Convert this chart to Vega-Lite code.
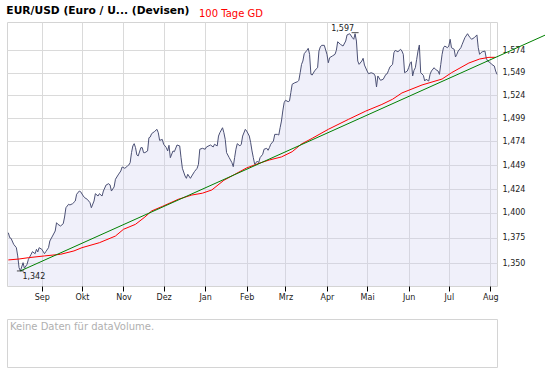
{
  "$schema": "https://vega.github.io/schema/vega-lite/v6.json",
  "padding": {"left": 5, "top": 4, "right": 0, "bottom": 0},
  "background": "white",
  "config": {
    "font": "DejaVu Sans",
    "view": {"stroke": "#d4d4d4", "strokeWidth": 1}
  },
  "spacing": 16,
  "datasets": {
    "price": [
      {"date":"2007-08-07","value":1.3801},{"date":"2007-08-08","value":1.3752},{"date":"2007-08-09","value":1.3746},{"date":"2007-08-11","value":1.3686},
      {"date":"2007-08-13","value":1.3653},{"date":"2007-08-14","value":1.3572},{"date":"2007-08-15","value":1.3458},{"date":"2007-08-16","value":1.3426},
      {"date":"2007-08-18","value":1.3506},{"date":"2007-08-19","value":1.3452},{"date":"2007-08-21","value":1.3491},{"date":"2007-08-22","value":1.3539},
      {"date":"2007-08-24","value":1.3588},{"date":"2007-08-25","value":1.3614},{"date":"2007-08-27","value":1.3594},{"date":"2007-08-28","value":1.3637},
      {"date":"2007-08-29","value":1.3611},{"date":"2007-08-30","value":1.3653},{"date":"2007-09-01","value":1.3637},{"date":"2007-09-03","value":1.3594},
      {"date":"2007-09-04","value":1.3614},{"date":"2007-09-06","value":1.3653},{"date":"2007-09-07","value":1.3719},{"date":"2007-09-09","value":1.3768},
      {"date":"2007-09-11","value":1.3818},{"date":"2007-09-12","value":1.3901},{"date":"2007-09-13","value":1.3885},{"date":"2007-09-15","value":1.3868},
      {"date":"2007-09-17","value":1.3891},{"date":"2007-09-18","value":1.3958},{"date":"2007-09-19","value":1.4052},{"date":"2007-09-21","value":1.4087},
      {"date":"2007-09-22","value":1.4080},{"date":"2007-09-24","value":1.4093},{"date":"2007-09-26","value":1.4120},{"date":"2007-09-27","value":1.4189},
      {"date":"2007-09-29","value":1.4222},{"date":"2007-09-30","value":1.4215},{"date":"2007-10-02","value":1.4171},{"date":"2007-10-03","value":1.4154},
      {"date":"2007-10-05","value":1.4137},{"date":"2007-10-07","value":1.4103},{"date":"2007-10-08","value":1.4052},{"date":"2007-10-10","value":1.4120},
      {"date":"2007-10-11","value":1.4195},{"date":"2007-10-13","value":1.4171},{"date":"2007-10-14","value":1.4195},{"date":"2007-10-16","value":1.4171},
      {"date":"2007-10-17","value":1.4222},{"date":"2007-10-19","value":1.4284},{"date":"2007-10-21","value":1.4298},{"date":"2007-10-22","value":1.4284},
      {"date":"2007-10-23","value":1.4222},{"date":"2007-10-25","value":1.4264},{"date":"2007-10-26","value":1.4343},{"date":"2007-10-28","value":1.4388},
      {"date":"2007-10-30","value":1.4429},{"date":"2007-10-31","value":1.4471},{"date":"2007-11-02","value":1.4457},{"date":"2007-11-04","value":1.4481},
      {"date":"2007-11-05","value":1.4492},{"date":"2007-11-06","value":1.4516},{"date":"2007-11-07","value":1.4621},{"date":"2007-11-08","value":1.4692},
      {"date":"2007-11-09","value":1.4716},{"date":"2007-11-10","value":1.4674},{"date":"2007-11-11","value":1.4597},{"date":"2007-11-12","value":1.4586},
      {"date":"2007-11-14","value":1.4674},{"date":"2007-11-15","value":1.4674},{"date":"2007-11-16","value":1.4621},{"date":"2007-11-17","value":1.4621},
      {"date":"2007-11-19","value":1.4639},{"date":"2007-11-20","value":1.4779},{"date":"2007-11-21","value":1.4787},{"date":"2007-11-22","value":1.4822},
      {"date":"2007-11-24","value":1.4843},{"date":"2007-11-26","value":1.4869},{"date":"2007-11-27","value":1.4833},{"date":"2007-11-28","value":1.4751},
      {"date":"2007-11-30","value":1.4761},{"date":"2007-12-01","value":1.4710},{"date":"2007-12-03","value":1.4674},{"date":"2007-12-04","value":1.4639},
      {"date":"2007-12-05","value":1.4699},{"date":"2007-12-06","value":1.4568},{"date":"2007-12-08","value":1.4639},{"date":"2007-12-09","value":1.4631},
      {"date":"2007-12-11","value":1.4702},{"date":"2007-12-13","value":1.4692},{"date":"2007-12-14","value":1.4568},{"date":"2007-12-15","value":1.4457},
      {"date":"2007-12-17","value":1.4377},{"date":"2007-12-18","value":1.4353},{"date":"2007-12-19","value":1.4395},{"date":"2007-12-21","value":1.4353},
      {"date":"2007-12-22","value":1.4377},{"date":"2007-12-24","value":1.4422},{"date":"2007-12-26","value":1.4457},{"date":"2007-12-27","value":1.4499},
      {"date":"2007-12-28","value":1.4657},{"date":"2007-12-30","value":1.4667},{"date":"2008-01-01","value":1.4657},{"date":"2008-01-02","value":1.4681},
      {"date":"2008-01-05","value":1.4702},{"date":"2008-01-07","value":1.4681},{"date":"2008-01-08","value":1.4710},{"date":"2008-01-10","value":1.4692},
      {"date":"2008-01-11","value":1.4797},{"date":"2008-01-12","value":1.4833},{"date":"2008-01-14","value":1.4886},{"date":"2008-01-15","value":1.4833},
      {"date":"2008-01-16","value":1.4762},{"date":"2008-01-17","value":1.4621},{"date":"2008-01-19","value":1.4568},{"date":"2008-01-21","value":1.4516},
      {"date":"2008-01-22","value":1.4474},{"date":"2008-01-23","value":1.4568},{"date":"2008-01-24","value":1.4657},{"date":"2008-01-25","value":1.4716},
      {"date":"2008-01-27","value":1.4692},{"date":"2008-01-28","value":1.4710},{"date":"2008-01-29","value":1.4797},{"date":"2008-01-31","value":1.4869},
      {"date":"2008-02-01","value":1.4851},{"date":"2008-02-03","value":1.4797},{"date":"2008-02-04","value":1.4727},{"date":"2008-02-05","value":1.4639},
      {"date":"2008-02-06","value":1.4568},{"date":"2008-02-07","value":1.4499},{"date":"2008-02-09","value":1.4533},{"date":"2008-02-10","value":1.4516},
      {"date":"2008-02-11","value":1.4568},{"date":"2008-02-13","value":1.4604},{"date":"2008-02-14","value":1.4657},{"date":"2008-02-16","value":1.4667},
      {"date":"2008-02-17","value":1.4646},{"date":"2008-02-18","value":1.4674},{"date":"2008-02-19","value":1.4710},{"date":"2008-02-21","value":1.4744},
      {"date":"2008-02-22","value":1.4815},{"date":"2008-02-24","value":1.4815},{"date":"2008-02-25","value":1.4808},{"date":"2008-02-26","value":1.4886},
      {"date":"2008-02-27","value":1.4958},{"date":"2008-02-28","value":1.5067},{"date":"2008-02-29","value":1.5157},{"date":"2008-03-01","value":1.5184},
      {"date":"2008-03-03","value":1.5168},{"date":"2008-03-04","value":1.5176},{"date":"2008-03-05","value":1.5267},{"date":"2008-03-06","value":1.5360},
      {"date":"2008-03-08","value":1.5377},{"date":"2008-03-10","value":1.5388},{"date":"2008-03-11","value":1.5404},{"date":"2008-03-12","value":1.5488},
      {"date":"2008-03-13","value":1.5582},{"date":"2008-03-14","value":1.5619},{"date":"2008-03-15","value":1.5702},{"date":"2008-03-17","value":1.5740},
      {"date":"2008-03-18","value":1.5763},{"date":"2008-03-19","value":1.5695},{"date":"2008-03-20","value":1.5470},{"date":"2008-03-21","value":1.5463},
      {"date":"2008-03-23","value":1.5515},{"date":"2008-03-25","value":1.5544},{"date":"2008-03-26","value":1.5732},{"date":"2008-03-27","value":1.5778},
      {"date":"2008-03-28","value":1.5797},{"date":"2008-03-30","value":1.5797},{"date":"2008-04-01","value":1.5695},{"date":"2008-04-02","value":1.5600},
      {"date":"2008-04-03","value":1.5657},{"date":"2008-04-05","value":1.5676},{"date":"2008-04-07","value":1.5695},{"date":"2008-04-08","value":1.5740},
      {"date":"2008-04-09","value":1.5838},{"date":"2008-04-11","value":1.5809},{"date":"2008-04-13","value":1.5789},{"date":"2008-04-15","value":1.5846},
      {"date":"2008-04-16","value":1.5916},{"date":"2008-04-18","value":1.5930},{"date":"2008-04-20","value":1.5884},{"date":"2008-04-21","value":1.5866},
      {"date":"2008-04-22","value":1.5930},{"date":"2008-04-23","value":1.5846},{"date":"2008-04-24","value":1.5619},{"date":"2008-04-25","value":1.5582},
      {"date":"2008-04-27","value":1.5619},{"date":"2008-04-28","value":1.5650},{"date":"2008-04-29","value":1.5574},{"date":"2008-05-01","value":1.5507},
      {"date":"2008-05-02","value":1.5477},{"date":"2008-05-04","value":1.5488},{"date":"2008-05-06","value":1.5477},{"date":"2008-05-07","value":1.5452},
      {"date":"2008-05-08","value":1.5330},{"date":"2008-05-09","value":1.5452},{"date":"2008-05-11","value":1.5404},{"date":"2008-05-13","value":1.5415},
      {"date":"2008-05-15","value":1.5470},{"date":"2008-05-16","value":1.5477},{"date":"2008-05-17","value":1.5515},{"date":"2008-05-18","value":1.5552},
      {"date":"2008-05-20","value":1.5582},{"date":"2008-05-21","value":1.5713},{"date":"2008-05-22","value":1.5740},{"date":"2008-05-24","value":1.5724},
      {"date":"2008-05-26","value":1.5752},{"date":"2008-05-27","value":1.5732},{"date":"2008-05-28","value":1.5695},{"date":"2008-05-29","value":1.5488},
      {"date":"2008-05-31","value":1.5507},{"date":"2008-06-01","value":1.5544},{"date":"2008-06-02","value":1.5589},{"date":"2008-06-03","value":1.5611},
      {"date":"2008-06-04","value":1.5452},{"date":"2008-06-05","value":1.5515},{"date":"2008-06-06","value":1.5544},{"date":"2008-06-07","value":1.5639},
      {"date":"2008-06-08","value":1.5732},{"date":"2008-06-09","value":1.5801},{"date":"2008-06-10","value":1.5488},{"date":"2008-06-12","value":1.5459},
      {"date":"2008-06-13","value":1.5396},{"date":"2008-06-14","value":1.5415},{"date":"2008-06-16","value":1.5396},{"date":"2008-06-17","value":1.5470},
      {"date":"2008-06-18","value":1.5507},{"date":"2008-06-20","value":1.5544},{"date":"2008-06-21","value":1.5526},{"date":"2008-06-23","value":1.5507},
      {"date":"2008-06-24","value":1.5470},{"date":"2008-06-25","value":1.5582},{"date":"2008-06-26","value":1.5695},{"date":"2008-06-27","value":1.5770},
      {"date":"2008-06-28","value":1.5789},{"date":"2008-06-30","value":1.5770},{"date":"2008-07-01","value":1.5789},{"date":"2008-07-02","value":1.5866},
      {"date":"2008-07-03","value":1.5770},{"date":"2008-07-05","value":1.5752},{"date":"2008-07-06","value":1.5665},{"date":"2008-07-07","value":1.5695},
      {"date":"2008-07-08","value":1.5732},{"date":"2008-07-10","value":1.5770},{"date":"2008-07-11","value":1.5809},{"date":"2008-07-12","value":1.5846},
      {"date":"2008-07-13","value":1.5884},{"date":"2008-07-15","value":1.5930},{"date":"2008-07-16","value":1.5904},{"date":"2008-07-17","value":1.5884},
      {"date":"2008-07-18","value":1.5866},{"date":"2008-07-20","value":1.5884},{"date":"2008-07-22","value":1.5916},{"date":"2008-07-23","value":1.5770},
      {"date":"2008-07-24","value":1.5695},{"date":"2008-07-25","value":1.5713},{"date":"2008-07-26","value":1.5724},{"date":"2008-07-28","value":1.5732},
      {"date":"2008-07-29","value":1.5650},{"date":"2008-07-30","value":1.5619},{"date":"2008-08-01","value":1.5600},{"date":"2008-08-02","value":1.5582},
      {"date":"2008-08-04","value":1.5563},{"date":"2008-08-05","value":1.5507},{"date":"2008-08-06","value":1.5470}
    ],
    "ma": [
      {"date":"2007-08-07","value":1.3533},{"date":"2007-08-15","value":1.3542},{"date":"2007-08-22","value":1.3555},{"date":"2007-09-03","value":1.3572},
      {"date":"2007-09-15","value":1.3588},{"date":"2007-09-25","value":1.3621},{"date":"2007-10-01","value":1.3653},{"date":"2007-10-14","value":1.3702},
      {"date":"2007-10-26","value":1.3768},{"date":"2007-11-01","value":1.3835},{"date":"2007-11-10","value":1.3885},{"date":"2007-11-17","value":1.3958},
      {"date":"2007-11-22","value":1.4019},{"date":"2007-11-30","value":1.4065},{"date":"2007-12-12","value":1.4138},{"date":"2007-12-22","value":1.4181},
      {"date":"2007-12-30","value":1.4200},{"date":"2008-01-06","value":1.4233},{"date":"2008-01-15","value":1.4333},{"date":"2008-01-23","value":1.4393},
      {"date":"2008-02-01","value":1.4461},{"date":"2008-02-11","value":1.4513},{"date":"2008-02-18","value":1.4544},{"date":"2008-02-27","value":1.4576},
      {"date":"2008-03-06","value":1.4631},{"date":"2008-03-13","value":1.4713},{"date":"2008-03-21","value":1.4773},{"date":"2008-04-02","value":1.4869},
      {"date":"2008-04-17","value":1.4976},{"date":"2008-04-30","value":1.5066},{"date":"2008-05-12","value":1.5138},{"date":"2008-05-20","value":1.5195},
      {"date":"2008-05-27","value":1.5264},{"date":"2008-06-11","value":1.5352},{"date":"2008-06-26","value":1.5418},{"date":"2008-07-03","value":1.5488},
      {"date":"2008-07-16","value":1.5597},{"date":"2008-07-24","value":1.5642},{"date":"2008-07-31","value":1.5661},{"date":"2008-08-05","value":1.5661}
    ],
    "trend": [
      {"date":"2007-08-16","value":1.3426},{"date":"2008-09-12","value":1.5921}
    ],
    "low": [{"date":"2007-08-16","value":1.3426,"label":"1,342"}],
    "high": [{"date":"2008-04-22","value":1.5942,"label":"1,597"}]
  },
  "vconcat": [
    {
      "width": 490,
      "height": 264,
      "title": {"text": "EUR/USD (Euro / U... (Devisen)", "anchor": "start", "fontSize": 10.7, "fontWeight": "bold", "color": "#000000", "offset": 5},
      "encoding": {
        "x": {
          "field": "date", "type": "temporal",
          "scale": {"type": "utc", "domain": [{"year":2007,"month":8,"date":6,"utc":true},{"year":2008,"month":8,"date":6,"utc":true}]},
          "axis": {
            "title": null, "domain": false, "grid": true, "gridColor": "#dadada",
            "values": [
              {"year":2007,"month":9,"date":1,"utc":true},{"year":2007,"month":10,"date":1,"utc":true},{"year":2007,"month":11,"date":1,"utc":true},
              {"year":2007,"month":12,"date":1,"utc":true},{"year":2008,"month":1,"date":1,"utc":true},{"year":2008,"month":2,"date":1,"utc":true},
              {"year":2008,"month":3,"date":1,"utc":true},{"year":2008,"month":4,"date":1,"utc":true},{"year":2008,"month":5,"date":1,"utc":true},
              {"year":2008,"month":6,"date":1,"utc":true},{"year":2008,"month":7,"date":1,"utc":true},{"year":2008,"month":8,"date":1,"utc":true}
            ],
            "labelExpr": "['Jan','Feb','Mrz','Apr','Mai','Jun','Jul','Aug','Sep','Okt','Nov','Dez'][utcmonth(datum.value)]",
            "tickColor": "#000000", "tickSize": 5, "labelFontSize": 8, "labelColor": "#222222", "labelPadding": 2,
            "labelFlush": false, "labelOverlap": false
          }
        },
        "y": {
          "field": "value", "type": "quantitative",
          "scale": {"type": "log", "domain": [1.3281, 1.6065], "nice": false, "zero": false},
          "axis": {
            "orient": "right", "title": null, "domain": false, "ticks": false, "tickSize": 0, "grid": true, "gridColor": "#dadada",
            "values": [1.35, 1.375, 1.4, 1.424, 1.449, 1.474, 1.499, 1.524, 1.549, 1.574],
            "labelExpr": "replace(format(datum.value, '.3f'), '.', ',')",
            "labelFontSize": 8, "labelColor": "#222222", "labelPadding": 5
          }
        }
      },
      "layer": [
        {
          "data": {"name": "price"},
          "mark": {"type": "area", "color": "#ccccf0", "opacity": 0.3},
          "encoding": {"y2": {"datum": 1.3281}}
        },
        {
          "data": {"name": "price"},
          "mark": {"type": "line", "color": "#4c5175", "strokeWidth": 1}
        },
        {
          "data": {"name": "ma"},
          "mark": {"type": "line", "strokeWidth": 1},
          "encoding": {
            "color": {
              "datum": "100 Tage GD", "type": "nominal",
              "scale": {"range": ["#ff0000"]},
              "legend": {
                "orient": "none", "legendX": 182, "legendY": -13, "title": null,
                "symbolSize": 0, "symbolStrokeWidth": 0, "symbolOpacity": 0, "labelOffset": 0,
                "labelColor": "#ff0000", "labelFontSize": 10, "padding": 0
              }
            }
          }
        },
        {
          "data": {"name": "trend"},
          "mark": {"type": "line", "color": "#008000", "strokeWidth": 1, "clip": false}
        },
        {
          "data": {"name": "low"},
          "mark": {"type": "tick", "orient": "horizontal", "color": "#000000", "size": 7, "thickness": 1}
        },
        {
          "data": {"name": "high"},
          "mark": {"type": "tick", "orient": "horizontal", "color": "#000000", "size": 7, "thickness": 1}
        },
        {
          "data": {"name": "low"},
          "mark": {"type": "text", "align": "left", "baseline": "top", "dx": 2, "dy": 2, "fontSize": 8, "color": "#222222"},
          "encoding": {"text": {"field": "label"}}
        },
        {
          "data": {"name": "high"},
          "mark": {"type": "text", "align": "right", "baseline": "bottom", "dx": -1, "dy": 0, "fontSize": 8, "color": "#222222"},
          "encoding": {"text": {"field": "label"}}
        }
      ]
    },
    {
      "width": 490,
      "height": 48,
      "data": {"values": [{"msg": "Keine Daten für dataVolume."}]},
      "mark": {"type": "text", "align": "left", "baseline": "top", "dx": 3, "dy": 3, "color": "#b0b0b0", "fontSize": 10},
      "encoding": {
        "x": {"datum": 0, "type": "quantitative", "scale": {"domain": [0, 1]}, "axis": null},
        "y": {"datum": 1, "type": "quantitative", "scale": {"domain": [0, 1]}, "axis": null},
        "text": {"field": "msg"}
      }
    }
  ]
}
